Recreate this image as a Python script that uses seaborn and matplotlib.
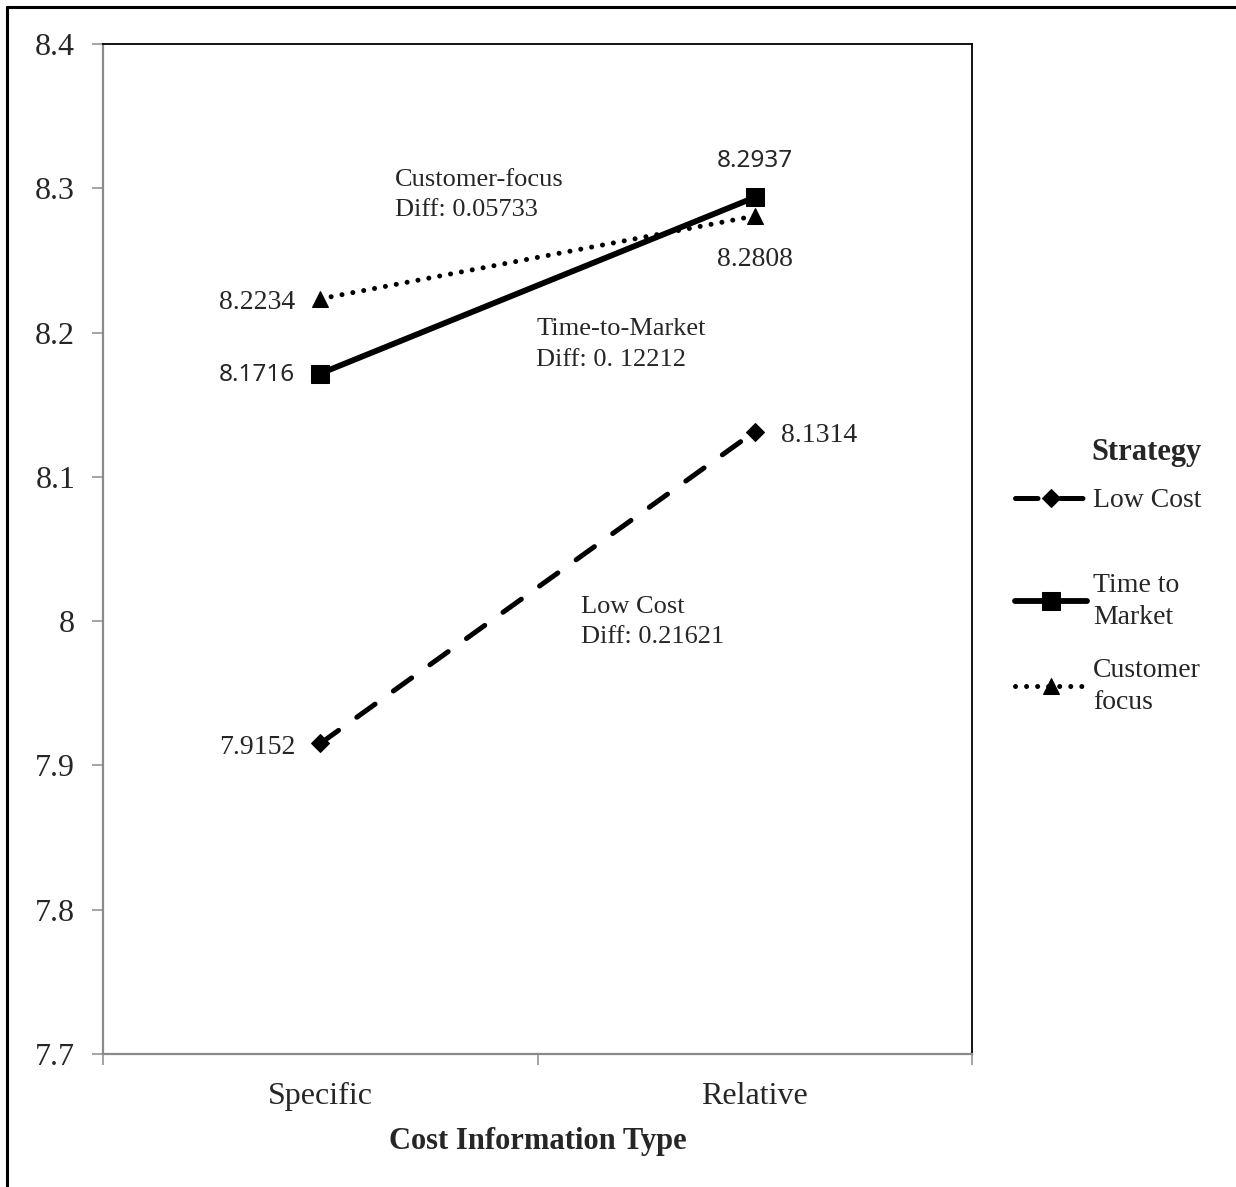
import numpy as np
import pandas as pd
import matplotlib
matplotlib.use("Agg")
import matplotlib.pyplot as plt
from matplotlib.lines import Line2D
from matplotlib.ticker import FixedLocator
import seaborn as sns

# ---- data ----
categories = ["Specific", "Relative"]
strategies = ["Low Cost", "Time to Market", "Customer focus"]
legend_labels = ["Low Cost", "Time to\nMarket", "Customer\nfocus"]
low_cost = [7.9152, 8.1314]
time_to_market = [8.1716, 8.2937]
customer_focus = [8.2234, 8.2808]
y_ticks = [7.7, 7.8, 7.9, 8.0, 8.1, 8.2, 8.3, 8.4]
y_tick_labels = ["7.7", "7.8", "7.9", "8", "8.1", "8.2", "8.3", "8.4"]
diff_notes = ["Low Cost\nDiff: 0.21621", "Time-to-Market\nDiff: 0. 12212", "Customer-focus\nDiff: 0.05733"]

values = [low_cost, time_to_market, customer_focus]
rows = []
for s, vals in zip(strategies, values):
    for i, (c, v) in enumerate(zip(categories, vals)):
        rows.append({"Strategy": s, "Category": c, "pos": i, "value": v})
df = pd.DataFrame(rows)

sns.set_theme(style="white")
plt.rcParams["font.family"] = ["Liberation Serif", "DejaVu Serif"]

fig = plt.figure(figsize=(12.36, 11.87), dpi=100)
ax = fig.add_axes([103 / 1236, 1 - 1054 / 1187, 869 / 1236, 1010 / 1187])

styles = {
    "Low Cost": dict(linestyle=(0, (4.5, 4.5)), marker="D", markersize=9.5, linewidth=3.6,
                     dash_capstyle="round"),
    "Time to Market": dict(linestyle="-", marker="s", markersize=13, linewidth=4.2),
    "Customer focus": dict(linestyle=(0, (0.01, 2.2)), marker="^", markersize=12, linewidth=3.6,
                           dash_capstyle="round"),
}

handles = []
for s in strategies:
    sub = df[df["Strategy"] == s]
    sns.lineplot(data=sub, x="pos", y="value", color="black", ax=ax, legend=False,
                 markeredgecolor="black", markerfacecolor="black", **styles[s])
    handles.append(ax.lines[-1])

ax.set_xlim(-0.5, len(categories) - 0.5)
ax.set_ylim(y_ticks[0], y_ticks[-1])
ax.set_yticks(y_ticks)
ax.set_yticklabels(y_tick_labels, fontsize=23)
ax.set_xticks(range(len(categories)))
ax.set_xticklabels(categories, fontsize=23)
ax.xaxis.set_minor_locator(FixedLocator(np.arange(-0.5, len(categories), 1.0)))
ax.tick_params(axis="x", which="major", length=0, pad=20)
ax.tick_params(axis="x", which="minor", length=8, width=1.1, color="#8a8a8a", bottom=True)
ax.tick_params(axis="y", which="major", length=8, width=1.1, color="#8a8a8a", left=True, pad=12)
ax.set_xlabel("Cost Information Type", fontsize=22, fontweight="bold", labelpad=12)
ax.set_ylabel("")

for side in ["left", "bottom"]:
    ax.spines[side].set_color("#8a8a8a")
    ax.spines[side].set_linewidth(1.6)
for side in ["top", "right"]:
    ax.spines[side].set_color("black")
    ax.spines[side].set_linewidth(1.3)
ax.grid(False)

# data value labels
sans = ["Noto Sans", "DejaVu Sans"]
ax.annotate(f"{customer_focus[0]:.4f}", (0, customer_focus[0]), xytext=(-18, -3),
            textcoords="offset points", ha="right", va="center", fontsize=20)
ax.annotate(f"{time_to_market[0]:.4f}", (0, time_to_market[0]), xytext=(-18, -1),
            textcoords="offset points", ha="right", va="center", fontsize=17.5, family=sans)
ax.annotate(f"{low_cost[0]:.4f}", (0, low_cost[0]), xytext=(-18, -3),
            textcoords="offset points", ha="right", va="center", fontsize=20)
ax.annotate(f"{low_cost[1]:.4f}", (1, low_cost[1]), xytext=(19, -3),
            textcoords="offset points", ha="left", va="center", fontsize=20)
ax.annotate(f"{time_to_market[1]:.4f}", (1, time_to_market[1]), xytext=(0, 26),
            textcoords="offset points", ha="center", va="center", fontsize=17.5, family=sans)
ax.annotate(f"{customer_focus[1]:.4f}", (1, customer_focus[1]), xytext=(0, -31),
            textcoords="offset points", ha="center", va="center", fontsize=20)

# difference notes
ax.text(0.172, 8.3135, diff_notes[2], ha="left", va="top", fontsize=19, linespacing=1.5)
ax.text(0.497, 8.2100, diff_notes[1], ha="left", va="top", fontsize=19, linespacing=1.5)
ax.text(0.600, 8.0176, diff_notes[0], ha="left", va="top", fontsize=19, linespacing=1.5)

# legend: title + first entry, then remaining entries
leg1 = fig.legend(handles[:1], legend_labels[:1], loc="upper left",
                  bbox_to_anchor=(990 / 1236, 1 - 413 / 1187), frameon=False,
                  fontsize=20, handlelength=2.6, handletextpad=0.2, labelspacing=0.75,
                  title="Strategy", alignment="right",
                  title_fontproperties={"size": 22, "weight": "bold"})
leg2 = fig.legend(handles[1:], legend_labels[1:], loc="upper left",
                  bbox_to_anchor=(990 / 1236, 1 - 548 / 1187), frameon=False,
                  fontsize=20, handlelength=2.6, handletextpad=0.2, labelspacing=1.03)
for t in leg2.get_texts():
    t.set_linespacing(1.35)

# outer frame (top and left edges)
fig.add_artist(Line2D([7 / 1236, 1], [1 - 7 / 1187, 1 - 7 / 1187], transform=fig.transFigure,
                      color="black", linewidth=2.2))
fig.add_artist(Line2D([7 / 1236, 7 / 1236], [0, 1 - 7 / 1187], transform=fig.transFigure,
                      color="black", linewidth=2.2))

fig.savefig("out.png", dpi=100)
